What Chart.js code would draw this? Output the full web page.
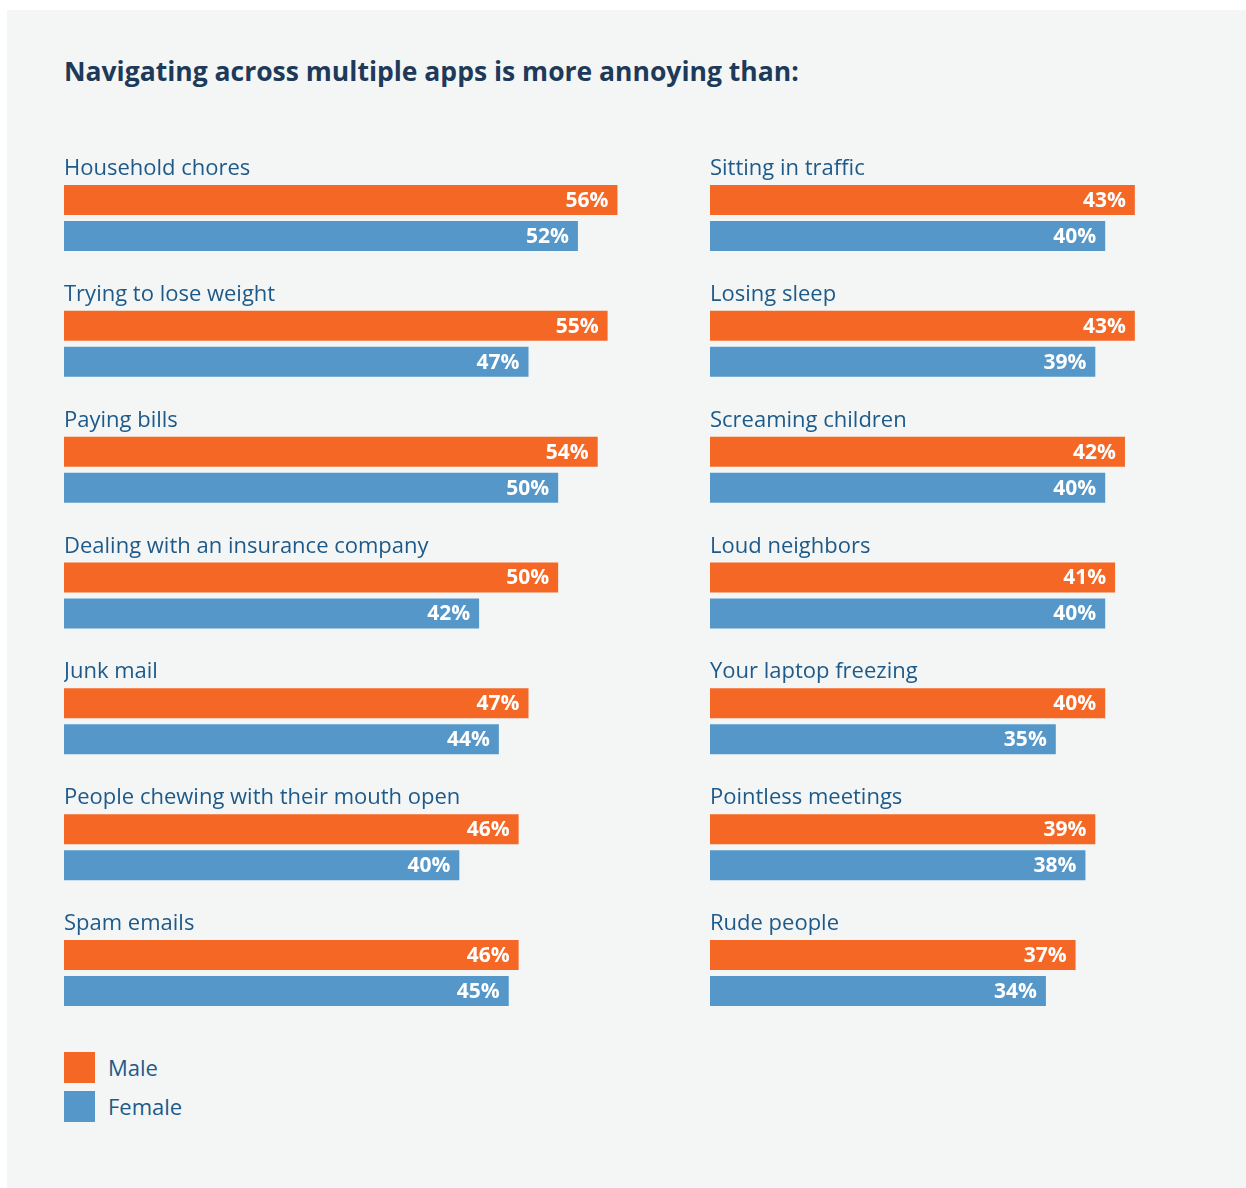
<!DOCTYPE html>
<html>
<head>
<meta charset="utf-8">
<script src="https://cdn.jsdelivr.net/npm/chart.js@4"></script>
<style>
  body { margin: 0; background: #fff; font-family: "Open Sans", sans-serif; }
  #panel { position: absolute; left: 7px; top: 10px; width: 1239px; height: 1178px; background: #f4f6f5; }
  h1 { position: absolute; left: 64px; top: 53px; margin: 0; font-size: 26.5px; font-weight: 700; color: #1e3a5a; }
  .col { position: absolute; top: 155px; height: 881px; }
  #left { left: 64px; width: 593px; }
  #right { left: 710px; width: 494px; }
  .legend { position: absolute; left: 64px; font-size: 22px; color: #1d5a8a; line-height: 31px; }
  .legend span { display: inline-block; width: 31px; height: 31px; vertical-align: top; margin-right: 13px; }
</style>
</head>
<body>
<div id="panel"></div>
<h1>Navigating across multiple apps is more annoying than:</h1>
<div class="col" id="left"><canvas id="chart-left"></canvas></div>
<div class="col" id="right"><canvas id="chart-right"></canvas></div>
<div class="legend" style="top:1052px"><span style="background:#f46725"></span>Male</div>
<div class="legend" style="top:1091px"><span style="background:#5597c9"></span>Female</div>
<script>
const leftCategories = ["Household chores", "Trying to lose weight", "Paying bills", "Dealing with an insurance company", "Junk mail", "People chewing with their mouth open", "Spam emails"];
const leftMale = [56, 55, 54, 50, 47, 46, 46];
const leftFemale = [52, 47, 50, 42, 44, 40, 45];

const rightCategories = ["Sitting in traffic", "Losing sleep", "Screaming children", "Loud neighbors", "Your laptop freezing", "Pointless meetings", "Rude people"];
const rightMale = [43, 43, 42, 41, 40, 39, 37];
const rightFemale = [40, 39, 40, 40, 35, 38, 34];

const orange = "#f46725";
const blue = "#5597c9";

// draws the category name above each group and the value inside each bar
const barLabels = {
    id: "barLabels",
    afterDatasetsDraw(chart) {
        const ctx = chart.ctx;
        ctx.save();
        chart.data.datasets.forEach((ds, i) => {
            const meta = chart.getDatasetMeta(i);
            meta.data.forEach((bar, j) => {
                ctx.fillStyle = "#ffffff";
                ctx.font = "bold 21px 'Open Sans'";
                ctx.textAlign = "right";
                ctx.textBaseline = "middle";
                ctx.fillText(ds.data[j] + "%", bar.x - 9, bar.y + 1);
                if (i == 0) {
                    ctx.fillStyle = "#1d5a8a";
                    ctx.font = "22px 'Open Sans'";
                    ctx.textAlign = "left";
                    ctx.textBaseline = "alphabetic";
                    ctx.fillText(chart.data.labels[j], chart.chartArea.left, bar.y - bar.height / 2 - 10);
                }
            });
        });
        ctx.restore();
    }
};

function makeChart(id, labels, male, female, max) {
    return new Chart(document.getElementById(id), {
        type: "bar",
        plugins: [barLabels],
        data: {
            labels: labels,
            datasets: [
                { label: "Male", data: male, backgroundColor: orange },
                { label: "Female", data: female, backgroundColor: blue }
            ]
        },
        options: {
            indexAxis: "y",
            responsive: true,
            maintainAspectRatio: false,
            animation: false,
            categoryPercentage: 0.572,
            barPercentage: 0.833,
            layout: { padding: 0 },
            plugins: {
                legend: { display: false },
                tooltip: { enabled: false }
            },
            scales: {
                x: { display: false, min: 0, max: max },
                y: { display: false }
            }
        }
    });
}

makeChart("chart-left", leftCategories, leftMale, leftFemale, 60);
makeChart("chart-right", rightCategories, rightMale, rightFemale, 50);
</script>
</body>
</html>
